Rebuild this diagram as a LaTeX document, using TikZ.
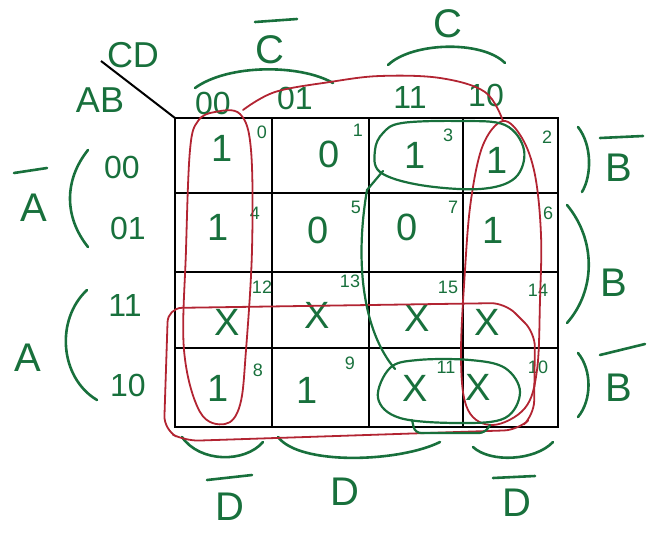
\documentclass[tikz,border=0pt]{standalone}
\usepackage{fontspec}
\setmainfont{Liberation Sans}
\definecolor{pen}{RGB}{24,112,60}
\definecolor{loopred}{RGB}{178,36,50}
\begin{document}
\begin{tikzpicture}[x=1pt,y=-1pt,
  gridline/.style={draw=black,line width=2.2pt},
  penline/.style={draw=pen,line width=2.6pt,line cap=round,line join=round},
  redline/.style={draw=loopred,line width=1.8pt,line cap=round,line join=round},
  val/.style={text=pen,font=\fontsize{38}{38}\selectfont,inner sep=0pt},
  sub/.style={text=pen,font=\fontsize{18}{18}\selectfont,inner sep=0pt},
  hdr/.style={text=pen,font=\fontsize{32}{32}\selectfont,inner sep=0pt},
  corn/.style={text=pen,font=\fontsize{36}{36}\selectfont,inner sep=0pt},
  lbl/.style={text=pen,font=\fontsize{40}{40}\selectfont,inner sep=0pt}]
\useasboundingbox (0,0) rectangle (653,533);
% grid
\draw[gridline] (175,118) rectangle (558,427);
\foreach \xx in {272,369,463} \draw[gridline] (\xx,118) -- (\xx,427);
\foreach \yy in {193,272,348} \draw[gridline] (175,\yy) -- (558,\yy);
\coordinate (corner) at (175,118);
\coordinate (diagend) at (101,61);
\draw[gridline,line width=2pt] (diagend) -- (corner);
% corner labels
\node[corn] (cd) at (133,55) {CD};
\node[corn] (ab) at (100,100) {AB};
% column headers
\node[hdr] (h00) at (213,103) {00};
\node[hdr] (h01) at (295,98) {01};
\node[hdr] (h11) at (410,97) {11};
\node[hdr] (h10) at (486,95) {10};
% row headers
\node[hdr] (r00) at (122,167) {00};
\node[hdr] (r01) at (128,228) {01};
\node[hdr] (r11) at (125,305) {11};
\node[hdr] (r10) at (128,385) {10};
% top labels
\node[lbl] (cbar) at (270,50) {C};
\draw[penline] (255,22) -- (297,19);
\draw[penline] (195,88) .. controls (228,64) and (300,64) .. (333,83);
\node[lbl] (cc) at (448,24) {C};
\draw[penline] (388,65) .. controls (412,42) and (482,40) .. (505,63);
% left labels
\node[lbl] (abar) at (34,208) {A};
\draw[penline] (14,173) -- (47,168);
\draw[penline] (88,150) .. controls (64,180) and (64,217) .. (88,247);
\node[lbl] (aa) at (28,358) {A};
\draw[penline] (87,290) .. controls (55,320) and (60,378) .. (97,400);
% right labels
\draw[penline] (578,127) .. controls (592,145) and (592,175) .. (582,192);
\node[lbl] (bbar1) at (619,168) {B};
\draw[penline] (600,138) -- (643,136);
\draw[penline] (567,205) .. controls (596,240) and (596,290) .. (567,323);
\node[lbl] (bb) at (614,283) {B};
\draw[penline] (578,353) .. controls (592,370) and (592,400) .. (578,417);
\node[lbl] (bbar2) at (619,388) {B};
\draw[penline] (600,355) -- (645,344);
% bottom labels
\draw[penline] (182,437) .. controls (200,463) and (245,463) .. (263,442);
\node[lbl] (dbar1) at (230,507) {D};
\draw[penline] (207,480) -- (252,475);
\draw[penline] (278,437) .. controls (300,466) and (400,462) .. (440,442);
\node[lbl] (dd) at (345,492) {D};
\draw[penline] (473,447) .. controls (490,463) and (535,461) .. (553,442);
\node[lbl] (dbar2) at (517,503) {D};
\draw[penline] (493,478) -- (535,476);
% cell values
\node[val] (v0) at (222,148) {1};   \node[sub] (s0) at (262,132) {0};
\node[val] (v1) at (329,154) {0};   \node[sub] (s1) at (358,130) {1};
\node[val] (v3) at (415,155) {1};   \node[sub] (s3) at (448,135) {3};
\node[val] (v2) at (497,160) {1};   \node[sub] (s2) at (547,137) {2};
\node[val] (v4) at (218,227) {1};   \node[sub] (s4) at (255,213) {4};
\node[val] (v5) at (318,230) {0};   \node[sub] (s5) at (356,207) {5};
\node[val] (v7) at (407,227) {0};   \node[sub] (s7) at (453,207) {7};
\node[val] (v6) at (493,230) {1};   \node[sub] (s6) at (548,213) {6};
\node[val] (v12) at (227,322) {X};  \node[sub] (s12) at (262,287) {12};
\node[val] (v13) at (317,315) {X};  \node[sub] (s13) at (350,281) {13};
\node[val] (v15) at (417,318) {X};  \node[sub] (s15) at (448,287) {15};
\node[val] (v14) at (487,322) {X};  \node[sub] (s14) at (538,290) {14};
\node[val] (v8) at (218,388) {1};   \node[sub] (s8) at (258,370) {8};
\node[val] (v9) at (307,390) {1};   \node[sub] (s9) at (350,363) {9};
\node[val] (v11) at (415,388) {X};  \node[sub] (s11) at (446,367) {11};
\node[val] (v10) at (478,387) {X};  \node[sub] (s10) at (538,367) {10};
% red loops
\draw[redline] plot[smooth cycle,tension=0.6] coordinates {(215,112) (240,114) (251,150) (252,250) (246,350) (240,405) (225,424) (200,412) (184,350) (186,250) (190,150) (198,121)};
\draw[redline] plot[smooth,tension=0.6] coordinates {(243,110) (275,92) (330,82) (380,76) (440,78) (485,92) (503,121)};
\draw[redline] plot[smooth cycle,tension=0.6] coordinates {(503,121) (522,138) (535,175) (541,235) (540,300) (537,370) (525,408) (493,425) (468,410) (461,360) (465,270) (471,200) (483,145)};
\draw[redline,rounded corners=14pt] (168,308) -- (505,303) -- (535,333) -- (534,415) -- (518,430) -- (185,441) -- (164,430) -- cycle;
% green loops
\draw[penline,line width=2.2pt] plot[smooth cycle,tension=0.6] coordinates {(383,133) (402,123) (460,121) (505,125) (524,150) (515,178) (480,189) (420,185) (380,172) (375,150)};
\draw[penline,line width=2.2pt] plot[smooth cycle,tension=0.6] coordinates {(390,368) (418,360) (470,360) (505,368) (520,392) (505,418) (460,423) (400,418) (378,398)};
\coordinate (g1c) at (383,171);
\coordinate (g2c) at (395,369);
\draw[penline,line width=2.2pt] (g1c) -- (367,190) .. controls (355,260) and (362,330) .. (g2c);
\draw[penline,line width=2.2pt,rounded corners=6pt] (412,420) -- (415,433) -- (485,433) -- (490,425);
\end{tikzpicture}
\end{document}
